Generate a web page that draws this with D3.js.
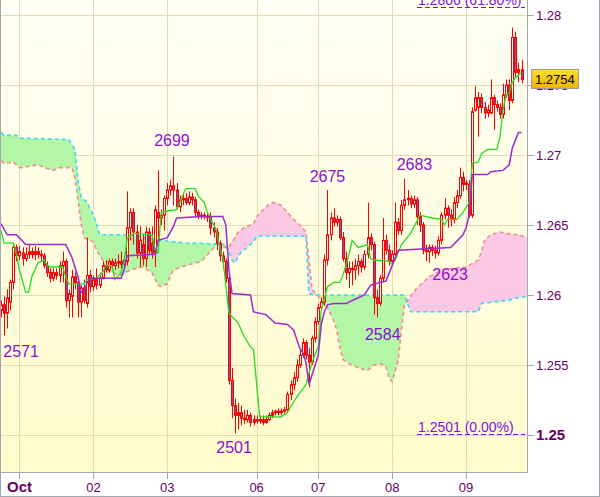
<!DOCTYPE html>
<html><head><meta charset="utf-8">
<script src="https://cdn.jsdelivr.net/npm/d3@7"></script>
<style>html,body{margin:0;padding:0;background:#fff;}svg{display:block;font-family:"Liberation Sans",Arial,sans-serif;}</style>
</head><body><svg id="c" width="600" height="497"></svg>
<script>
// ---------- DATA (hourly candles, index 0..169) ----------
const open = [
1.2589,1.2593,1.2587,1.2595,1.2609,1.2634,1.2628,1.2630,1.2626,1.2629,
1.2631,1.2629,1.2631,1.2629,1.2628,1.2621,1.2616,1.2612,1.2616,1.2614,
1.2621,1.2624,1.2596,1.2599,1.2613,1.2609,1.2595,1.2605,1.2594,1.2614,
1.2606,1.2611,1.2607,1.2612,1.2621,1.2618,1.2624,1.2621,1.2623,1.2624,
1.2622,1.2624,1.2648,1.2659,1.2645,1.2630,1.2636,1.2626,1.2645,1.2637,
1.2630,1.2659,1.2655,1.2657,1.2669,1.2675,1.2678,1.2675,1.2663,1.2668,
1.2669,1.2666,1.2670,1.2668,1.2659,1.2656,1.2657,1.2656,1.2656,1.2648,
1.2645,1.2637,1.2628,1.2624,1.2612,1.2539,1.2521,1.2514,1.2516,1.2512,
1.2511,1.2514,1.2509,1.2511,1.2510,1.2511,1.2509,1.2511,1.2514,1.2516,
1.2517,1.2516,1.2517,1.2518,1.2529,1.2536,1.2541,1.2550,1.2557,1.2566,
1.2557,1.2552,1.2569,1.2581,1.2591,1.2595,1.2625,1.2643,1.2655,1.2652,
1.2654,1.2641,1.2626,1.2616,1.2619,1.2618,1.2621,1.2624,1.2620,1.2629,
1.2641,1.2636,1.2598,1.2594,1.2612,1.2639,1.2632,1.2624,1.2629,1.2652,
1.2646,1.2664,1.2668,1.2669,1.2665,1.2668,1.2656,1.2650,1.2632,1.2631,
1.2634,1.2632,1.2630,1.2639,1.2657,1.2662,1.2657,1.2654,1.2666,1.2671,
1.2684,1.2679,1.2679,1.2657,1.2732,1.2734,1.2741,1.2734,1.2730,1.2730,
1.2741,1.2736,1.2734,1.2729,1.2743,1.2750,1.2739,1.2784,1.2759,1.2761];
const high = [
1.2596,1.2599,1.2604,1.2611,1.2636,1.2636,1.2635,1.2634,1.2634,1.2636,
1.2634,1.2635,1.2634,1.2632,1.2630,1.2624,1.2619,1.2619,1.2619,1.2624,
1.2631,1.2626,1.2604,1.2618,1.2616,1.2611,1.2607,1.2611,1.2641,1.2618,
1.2614,1.2619,1.2616,1.2624,1.2625,1.2626,1.2626,1.2626,1.2629,1.2631,
1.2628,1.2674,1.2662,1.2662,1.2650,1.2649,1.2643,1.2649,1.2648,1.2649,
1.2664,1.2689,1.2661,1.2671,1.2680,1.2682,1.2699,1.2680,1.2671,1.2673,
1.2673,1.2674,1.2673,1.2670,1.2661,1.2659,1.2659,1.2659,1.2659,1.2652,
1.2648,1.2639,1.2631,1.2626,1.2616,1.2548,1.2526,1.2523,1.2521,1.2518,
1.2518,1.2516,1.2514,1.2514,1.2514,1.2514,1.2514,1.2516,1.2518,1.2518,
1.2519,1.2519,1.2520,1.2531,1.2539,1.2545,1.2554,1.2561,1.2569,1.2568,
1.2562,1.2571,1.2584,1.2594,1.2598,1.2629,1.2675,1.2659,1.2662,1.2657,
1.2656,1.2645,1.2631,1.2624,1.2624,1.2626,1.2629,1.2626,1.2632,1.2666,
1.2644,1.2638,1.2604,1.2614,1.2655,1.2643,1.2636,1.2632,1.2666,1.2655,
1.2668,1.2683,1.2675,1.2671,1.2671,1.2670,1.2659,1.2652,1.2636,1.2636,
1.2636,1.2635,1.2642,1.2659,1.2669,1.2664,1.2661,1.2670,1.2675,1.2691,
1.2688,1.2682,1.2682,1.2734,1.2749,1.2745,1.2744,1.2738,1.2736,1.2754,
1.2743,1.2739,1.2737,1.2751,1.2754,1.2754,1.2791,1.2788,1.2766,1.2768];
const low = [
1.2584,1.2571,1.2576,1.2589,1.2604,1.2624,1.2625,1.2621,1.2624,1.2626,
1.2626,1.2625,1.2626,1.2624,1.2619,1.2613,1.2609,1.2610,1.2611,1.2609,
1.2609,1.2591,1.2584,1.2584,1.2604,1.2584,1.2584,1.2594,1.2591,1.2602,
1.2603,1.2604,1.2605,1.2611,1.2616,1.2616,1.2618,1.2618,1.2619,1.2619,
1.2620,1.2621,1.2639,1.2636,1.2626,1.2620,1.2621,1.2620,1.2629,1.2626,
1.2620,1.2639,1.2650,1.2646,1.2664,1.2671,1.2664,1.2661,1.2659,1.2664,
1.2664,1.2664,1.2664,1.2656,1.2654,1.2654,1.2654,1.2652,1.2643,1.2641,
1.2632,1.2624,1.2619,1.2609,1.2536,1.2512,1.2501,1.2504,1.2507,1.2508,
1.2509,1.2506,1.2507,1.2508,1.2508,1.2507,1.2508,1.2510,1.2512,1.2514,
1.2514,1.2514,1.2515,1.2516,1.2525,1.2532,1.2538,1.2548,1.2555,1.2554,
1.2534,1.2550,1.2566,1.2579,1.2589,1.2592,1.2621,1.2639,1.2649,1.2649,
1.2639,1.2624,1.2611,1.2605,1.2607,1.2611,1.2614,1.2616,1.2618,1.2626,
1.2632,1.2586,1.2584,1.2592,1.2609,1.2629,1.2621,1.2621,1.2626,1.2643,
1.2643,1.2661,1.2664,1.2662,1.2662,1.2650,1.2645,1.2629,1.2624,1.2623,
1.2628,1.2626,1.2628,1.2636,1.2654,1.2648,1.2649,1.2651,1.2662,1.2669,
1.2674,1.2675,1.2655,1.2655,1.2731,1.2713,1.2730,1.2726,1.2727,1.2729,
1.2718,1.2731,1.2726,1.2726,1.2741,1.2732,1.2737,1.2755,1.2752,1.2751];
const close = [
1.2593,1.2587,1.2598,1.2609,1.2634,1.2628,1.2631,1.2626,1.2629,1.2631,
1.2629,1.2631,1.2629,1.2628,1.2621,1.2616,1.2612,1.2616,1.2614,1.2621,
1.2624,1.2596,1.2601,1.2613,1.2609,1.2595,1.2605,1.2596,1.2614,1.2606,
1.2611,1.2607,1.2612,1.2621,1.2618,1.2624,1.2621,1.2623,1.2624,1.2622,
1.2625,1.2648,1.2659,1.2645,1.2630,1.2639,1.2626,1.2645,1.2632,1.2630,
1.2661,1.2655,1.2657,1.2669,1.2675,1.2678,1.2675,1.2663,1.2668,1.2669,
1.2666,1.2670,1.2668,1.2659,1.2656,1.2657,1.2656,1.2656,1.2648,1.2645,
1.2637,1.2628,1.2624,1.2612,1.2539,1.2521,1.2514,1.2516,1.2512,1.2511,
1.2514,1.2509,1.2511,1.2510,1.2511,1.2509,1.2511,1.2514,1.2516,1.2517,
1.2516,1.2517,1.2518,1.2529,1.2536,1.2541,1.2550,1.2557,1.2566,1.2557,
1.2552,1.2569,1.2581,1.2591,1.2595,1.2625,1.2643,1.2655,1.2652,1.2654,
1.2641,1.2626,1.2616,1.2619,1.2618,1.2621,1.2624,1.2620,1.2629,1.2641,
1.2636,1.2598,1.2594,1.2612,1.2639,1.2632,1.2624,1.2629,1.2652,1.2646,
1.2664,1.2668,1.2669,1.2665,1.2668,1.2656,1.2650,1.2632,1.2631,1.2634,
1.2632,1.2630,1.2639,1.2657,1.2662,1.2657,1.2654,1.2666,1.2671,1.2684,
1.2679,1.2680,1.2657,1.2731,1.2741,1.2741,1.2734,1.2730,1.2732,1.2741,
1.2736,1.2734,1.2729,1.2743,1.2750,1.2739,1.2784,1.2759,1.2761,1.2754];

// Ichimoku lines: [candle index, price] vertices
const tenkan = [[0,1.2646],[1,1.2637],[4,1.2637],[5,1.2629],[6,1.2618],[8,1.2602],[9,1.2602],[10,1.2613],[12,1.2623],[14,1.2625],[15,1.2621],[16,1.2620],[20,1.2620],[21,1.2613],[22,1.2608],[27,1.2608],[28,1.2611],[31,1.2612],[33,1.2616],[34,1.2621],[36,1.2621],[37,1.2611],[39,1.2616],[40,1.2624],[41,1.2641],[43,1.2644],[49,1.2643],[50,1.2632],[51,1.2630],[52,1.2659],[54,1.2660],[57,1.2661],[59,1.2671],[60,1.2676],[63,1.2676],[64,1.2671],[66,1.2666],[67,1.2659],[70,1.2646],[71,1.2634],[72,1.2627],[73,1.2607],[74,1.2587],[77,1.2580],[79,1.2570],[81,1.2563],[82,1.2561],[83,1.2536],[84,1.2513],[91,1.2513],[93,1.2516],[94,1.2520],[96,1.2527],[99,1.2536],[101,1.2552],[103,1.2563],[104,1.2589],[106,1.2606],[108,1.2609],[110,1.2609],[111,1.2614],[113,1.2629],[114,1.2639],[116,1.2634],[119,1.2636],[120,1.2626],[121,1.2625],[126,1.2624],[127,1.2622],[128,1.2625],[130,1.2636],[133,1.2644],[136,1.2657],[140,1.2655],[143,1.2654],[144,1.2650],[145,1.2654],[148,1.2654],[150,1.2659],[152,1.2666],[153,1.2694],[155,1.2695],[156,1.2701],[158,1.2704],[161,1.2704],[162,1.2713],[163,1.2732],[164,1.2743],[165,1.2744],[166,1.2752],[167,1.2755],[168,1.2757],[169,1.2759]];
const kijun = [[0,1.2651],[2,1.2643],[5,1.2643],[8,1.2636],[21,1.2636],[23,1.2627],[25,1.2613],[26,1.2602],[27,1.2602],[28,1.2609],[29,1.2612],[39,1.2612],[40,1.2618],[41,1.2628],[50,1.2629],[51,1.2639],[54,1.2641],[56,1.2649],[57,1.2655],[65,1.2656],[72,1.2656],[73,1.2650],[74,1.2618],[75,1.2601],[81,1.2600],[82,1.2588],[86,1.2586],[89,1.2580],[93,1.2579],[95,1.2575],[97,1.2562],[98,1.2559],[99,1.2552],[100,1.2536],[101,1.2543],[102,1.2550],[103,1.2557],[104,1.2579],[105,1.2588],[106,1.2593],[108,1.2594],[112,1.2594],[118,1.2600],[120,1.2607],[123,1.2609],[125,1.2610],[127,1.2621],[129,1.2632],[146,1.2634],[150,1.2643],[151,1.2648],[152,1.2657],[153,1.2686],[158,1.2686],[159,1.2688],[163,1.2689],[165,1.2693],[166,1.2705],[168,1.2716],[169,1.2716]];
const spanA = [[0,1.2716],[1,1.2714],[5,1.2714],[6,1.2712],[22,1.2711],[24,1.2704],[25,1.2682],[26,1.2670],[28,1.2666],[30,1.2657],[31,1.2651],[32,1.2643],[41,1.2643],[52,1.2639],[60,1.2637],[65,1.2637],[73,1.2636],[74,1.2631],[75,1.2625],[76,1.2623],[77,1.2627],[78,1.2631],[80,1.2634],[82,1.2638],[83,1.2642],[99,1.2642],[100,1.2601],[102,1.2600],[131,1.2600],[133,1.2588],[155,1.2588],[156,1.2594],[164,1.2596],[168,1.2598],[171,1.2599]];
const spanB = [[0,1.2696],[1,1.2694],[4,1.2695],[6,1.2691],[7,1.2691],[9,1.2692],[12,1.2693],[14,1.2691],[17,1.2689],[19,1.2691],[23,1.2691],[24,1.2684],[25,1.2668],[26,1.2651],[27,1.2641],[30,1.2638],[31,1.2632],[33,1.2625],[34,1.2619],[36,1.2616],[39,1.2614],[42,1.2618],[46,1.2620],[49,1.2616],[51,1.2607],[52,1.2606],[54,1.2608],[55,1.2614],[56,1.2618],[60,1.2621],[65,1.2624],[68,1.2631],[70,1.2636],[73,1.2634],[74,1.2634],[77,1.2645],[79,1.2648],[80,1.2649],[82,1.2651],[83,1.2656],[86,1.2663],[88,1.2666],[89,1.2666],[91,1.2664],[93,1.2659],[95,1.2654],[97,1.2650],[99,1.2645],[100,1.2625],[101,1.2604],[103,1.2599],[106,1.2591],[108,1.2582],[109,1.2575],[110,1.2563],[111,1.2554],[113,1.2551],[116,1.2548],[119,1.2546],[121,1.2550],[123,1.2551],[125,1.2549],[126,1.2541],[127,1.2538],[128,1.2546],[129,1.2554],[130,1.2575],[131,1.2593],[133,1.2599],[135,1.2605],[137,1.2609],[139,1.2613],[143,1.2618],[151,1.2620],[155,1.2625],[156,1.2631],[157,1.2639],[159,1.2643],[162,1.2645],[164,1.2644],[168,1.2643],[171,1.2641]];

const dayIndex = [6,30,54,83,103,127,151];
const dayLabels = ["Oct","02","03","06","07","08","09"];
const priceTicks = [1.25,1.255,1.26,1.265,1.27,1.275,1.28];
const priceTickLabels = ["1.25","1.255","1.26","1.265","1.27","1.275","1.28"];
const lastPrice = 1.2754;
const lastPriceLabel = "1.2754";
const extremeLabels = ["2699","2675","2683","2623","2584","2571","2501"];
const extremeIndex = [56,106,131,139,122,1,76];
const extremePrice = [1.2699,1.2675,1.2683,1.2623,1.2584,1.2571,1.2501];
const fibPrices = [1.2806,1.2501];
const fibLabels = ["1.2806 (61.80%)","1.2501 (0.00%)"];

// ---------- LAYOUT ----------
const W=600,H=497,plotW=527,plotH=472;
const labelNudge=[[-1.5,-10],[0,-8],[10,-9],[21,17],[6,23],[17,21],[-1,19]];
const svg=d3.select("#c");
const x=d3.scaleLinear().domain([0,171]).range([1,1+3.08*171]);
const y=d3.scaleLinear().domain([1.25,1.28]).range([435,15]);

const defs=svg.append("defs");
const g0=defs.append("linearGradient").attr("id","bg").attr("x1",0).attr("y1",0).attr("x2",0).attr("y2",1);
g0.append("stop").attr("offset","0%").attr("stop-color","#fffff6");
g0.append("stop").attr("offset","100%").attr("stop-color","#fffbcb");
defs.append("clipPath").attr("id","clip").append("rect").attr("x",0).attr("y",0).attr("width",plotW).attr("height",plotH);
const pg=defs.append("linearGradient").attr("id","pbox").attr("x1",0).attr("y1",0).attr("x2",0).attr("y2",1);
pg.append("stop").attr("offset","0%").attr("stop-color","#ffdc30");
pg.append("stop").attr("offset","100%").attr("stop-color","#f0b400");

svg.append("rect").attr("width",W).attr("height",H).attr("fill","#fff");
svg.append("rect").attr("x",0).attr("y",0).attr("width",plotW).attr("height",plotH).attr("fill","url(#bg)");

const plot=svg.append("g").attr("clip-path","url(#clip)");
// grid
plot.selectAll(".vg").data(dayIndex).join("line")
 .attr("x1",d=>Math.round(x(d))+0.5).attr("x2",d=>Math.round(x(d))+0.5).attr("y1",0).attr("y2",plotH)
 .attr("stroke","#e0dcb2").attr("stroke-width",1);
plot.selectAll(".hg").data(priceTicks).join("line")
 .attr("y1",d=>Math.round(y(d))+0.5).attr("y2",d=>Math.round(y(d))+0.5).attr("x1",0).attr("x2",plotW)
 .attr("stroke","#e0dcb2").attr("stroke-width",1);

// cloud
function interp(pts,t){
  if(t<=pts[0][0])return pts[0][1];
  for(let k=1;k<pts.length;k++){ if(t<=pts[k][0]){const a=pts[k-1],b=pts[k];return a[1]+(b[1]-a[1])*(t-a[0])/(b[0]-a[0]);} }
  return pts[pts.length-1][1];
}
const samples=d3.range(0,171.001,0.1).map(t=>({t,a:interp(spanA,t),b:interp(spanB,t)}));
plot.append("path").datum(samples).attr("fill","#b3f6a6")
 .attr("d",d3.area().x(d=>x(d.t)).y0(d=>y(d.b)).y1(d=>y(Math.max(d.a,d.b))));
plot.append("path").datum(samples).attr("fill","#fbc9e6")
 .attr("d",d3.area().x(d=>x(d.t)).y0(d=>y(d.a)).y1(d=>y(Math.max(d.a,d.b))));
const ln=d3.line().x(d=>x(d[0])).y(d=>y(d[1]));
plot.append("path").datum(spanB).attr("fill","none").attr("stroke","#f08c8c").attr("stroke-width",1.6).attr("stroke-dasharray","4,3").attr("d",ln);
plot.append("path").datum(spanA).attr("fill","none").attr("stroke","#38d8f0").attr("stroke-width",1.6).attr("stroke-dasharray","4,3").attr("d",ln);

// candles
const idx=d3.range(open.length);
const cg=plot.append("g");
cg.selectAll(".w").data(idx).join("line")
 .attr("x1",i=>Math.round(x(i))+0.5).attr("x2",i=>Math.round(x(i))+0.5)
 .attr("y1",i=>y(high[i])).attr("y2",i=>y(low[i])).attr("stroke","#ff0000").attr("stroke-width",1);
cg.selectAll(".b").data(idx).join("rect")
 .attr("x",i=>Math.round(x(i))-0.5).attr("width",2)
 .attr("y",i=>y(Math.max(open[i],close[i]))).attr("height",i=>Math.max(1,Math.abs(y(open[i])-y(close[i]))))
 .attr("fill",i=>close[i]<open[i]?"#7456b8":"#fffde0").attr("stroke","#ff0000").attr("stroke-width",1);

// tenkan / kijun
plot.append("path").datum(tenkan).attr("fill","none").attr("stroke","#22dd22").attr("stroke-width",1.3).attr("d",ln);
plot.append("path").datum(kijun).attr("fill","none").attr("stroke","#9a2ad0").attr("stroke-width",1.5).attr("d",ln);

// fib levels
fibPrices.forEach((p,k)=>{
  svg.append("line").attr("x1",417).attr("x2",525).attr("y1",Math.round(y(p))+0.5).attr("y2",Math.round(y(p))+0.5)
   .attr("stroke","#8010e0").attr("stroke-width",1).attr("stroke-dasharray","5,3");
  svg.append("text").attr("x",418).attr("y",Math.round(y(p))-2).attr("fill","#8010e0").attr("font-size","14px").text(fibLabels[k]);
});

// extreme labels
extremeLabels.forEach((s,k)=>{
  svg.append("text").attr("x",x(extremeIndex[k])+labelNudge[k][0]).attr("y",y(extremePrice[k])+labelNudge[k][1])
   .attr("text-anchor","middle").attr("fill","#8a10d0").attr("font-size","16px").text(s);
});

// frame
svg.append("line").attr("x1",plotW+0.5).attr("x2",plotW+0.5).attr("y1",0).attr("y2",plotH+1).attr("stroke","#a0a8b0");
svg.append("line").attr("x1",0).attr("x2",plotW+1).attr("y1",plotH+0.5).attr("y2",plotH+0.5).attr("stroke","#a0a8b0");
svg.append("rect").attr("x",0.5).attr("y",-2).attr("width",W-1).attr("height",H+1.5).attr("fill","none").attr("stroke","#a0a8b0");

// right axis
priceTicks.forEach((p,k)=>{
  const yy=Math.round(y(p))+0.5;
  svg.append("line").attr("x1",plotW+1).attr("x2",plotW+7).attr("y1",yy).attr("y2",yy).attr("stroke","#a0a8b0");
  const bold=(p===1.25);
  svg.append("text").attr("x",536).attr("y",y(p)).attr("dy","0.36em")
   .attr("fill","#660066").attr("font-size",bold?"15px":"13px").attr("font-weight",bold?"bold":"normal").text(priceTickLabels[k]);
});
// bottom axis
dayIndex.forEach((d,k)=>{
  const xx=Math.round(x(d))+0.5;
  svg.append("line").attr("x1",xx).attr("x2",xx).attr("y1",plotH+1).attr("y2",plotH+7).attr("stroke","#a0a8b0");
  const bold=(k===0);
  svg.append("text").attr("x",x(d)).attr("y",492).attr("text-anchor","middle")
   .attr("fill","#660066").attr("font-size",bold?"15px":"13px").attr("font-weight",bold?"bold":"normal").text(dayLabels[k]);
});

// last price box
const ly=y(lastPrice);
svg.append("rect").attr("x",531.5).attr("y",Math.round(ly)-9.5).attr("width",47).attr("height",19)
 .attr("fill","url(#pbox)").attr("stroke","#9a9a9a").attr("stroke-width",1);
svg.append("text").attr("x",535).attr("y",ly).attr("dy","0.36em").attr("fill","#000").attr("font-size","13px").text(lastPriceLabel);
</script></body></html>
